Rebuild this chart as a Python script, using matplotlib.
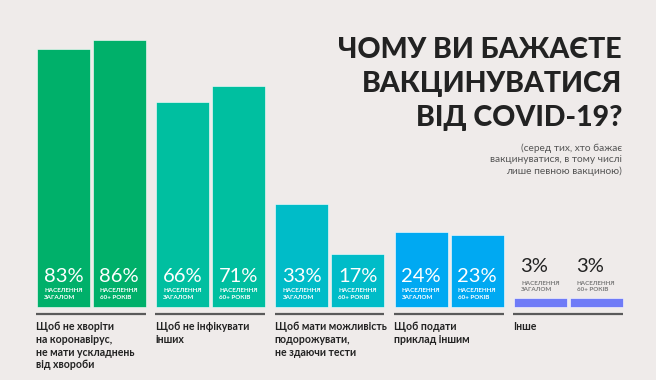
import matplotlib
matplotlib.use('Agg')
import matplotlib.pyplot as plt

# data
categories = ['Щоб не хворіти\nна коронавірус,\nне мати ускладнень\nвід хвороби',
              'Щоб не інфікувати\nінших',
              'Щоб мати можливість\nподорожувати,\nне здаючи тести',
              'Щоб подати\nприклад іншим',
              'Інше']
total = [83, 66, 33, 24, 3]      # населення загалом
aged60 = [86, 71, 17, 23, 3]     # населення 60+ років
colors = ['#00B06A', '#00BFA0', '#00BCC8', '#00A9F2', '#6F7BF7']
sub_labels = ['НАСЕЛЕННЯ\nЗАГАЛОМ', 'НАСЕЛЕННЯ\n60+ РОКІВ']

bg = '#EFEBEA'
dark = '#222222'
FAM = ['Lato', 'Noto Sans', 'DejaVu Sans']

fig = plt.figure(figsize=(6.56, 3.80), dpi=100, facecolor=bg)
ax = fig.add_axes([0, 0, 1, 1])
ax.set_facecolor(bg)
ax.set_xlim(-0.310, 5.191)
ax.set_ylim(-23.47, 98.71)
ax.axis('off')

w = 0.444
gap = 0.025
for i in range(len(categories)):
    for j, vals in enumerate([total, aged60]):
        left = i + j * (w + gap)
        v = vals[i]
        ax.bar(left, v, width=w, align='edge', color=colors[i],
               edgecolor='white', linewidth=0.4)
        if v > 10:
            ax.text(left + 0.055, 9.8, f'{v}%', color='white', fontsize=14.5,
                    family=FAM, weight='normal', va='center', ha='left')
            ax.text(left + 0.059, 4.2, sub_labels[j], color='white',
                    fontsize=4.5, family=FAM, weight='bold', va='center',
                    ha='left', linespacing=1.3)
        else:
            ax.text(left + 0.055, v + 9.9, f'{v}%', color=dark, fontsize=14.5,
                    family=FAM, weight='normal', va='center', ha='left')
            ax.text(left + 0.059, v + 3.6, sub_labels[j], color='#7a7a7a',
                    fontsize=4.5, family=FAM, weight='bold', va='center',
                    ha='left', linespacing=1.3)
    ax.plot([i - 0.008, i + 2 * w + gap], [-2.3, -2.3], color='#5a5a5a',
            lw=1.6, solid_capstyle='butt')
    ax.text(i - 0.005, -4.5, categories[i], color=dark, fontsize=7.6,
            family=FAM, weight='bold', va='top', ha='left', linespacing=1.2)

fig.text(622 / 656, 1 - 84 / 380, 'ЧОМУ ВИ БАЖАЄТЕ\nВАКЦИНУВАТИСЯ\nВІД COVID-19?',
         ha='right', va='center', fontsize=20.5, family=FAM, weight='black',
         color=dark, linespacing=1.36)
fig.text(622 / 656, 1 - 160 / 380,
         '(серед тих, хто бажає\nвакцинуватися, в тому числі\nлише певною вакциною)',
         ha='right', va='center', fontsize=7.3, family=FAM, color='#555555',
         linespacing=1.3, multialignment='right')

fig.savefig('out.png', dpi=100, facecolor=bg)
